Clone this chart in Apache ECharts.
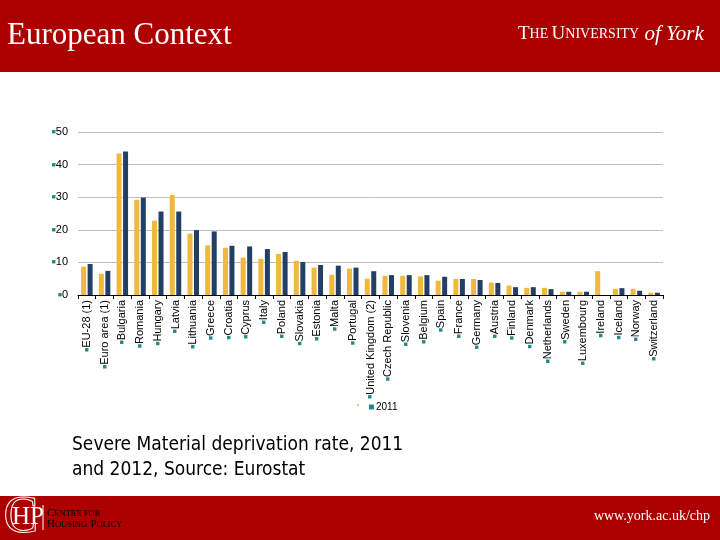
<!DOCTYPE html>
<html><head><meta charset="utf-8">
<script src="https://cdn.jsdelivr.net/npm/echarts@6/dist/echarts.min.js"></script>
<style>html,body{margin:0;padding:0;background:#fff}#c{width:720px;height:540px}</style>
</head><body><div id="c"></div>
<script>
const categories = ['EU-28 (1)','Euro area (1)','Bulgaria','Romania','Hungary','Latvia','Lithuania','Greece','Croatia','Cyprus','Italy','Poland','Slovakia','Estonia','Malta','Portugal','United Kingdom (2)','Czech Republic','Slovenia','Belgium','Spain','France','Germany','Austria','Finland','Denmark','Netherlands','Sweden','Luxembourg','Ireland','Iceland','Norway','Switzerland'];
const values2011 = [8.7,6.5,43.4,29.2,22.8,30.7,18.8,15.2,14.5,11.5,11.1,12.6,10.5,8.4,6.2,8.1,5.0,5.9,5.9,5.7,4.4,4.9,4.9,3.8,2.9,2.2,2.2,1.0,1.0,7.3,1.9,1.9,0.7];
const values2012 = [9.5,7.4,44.0,29.9,25.6,25.6,19.9,19.5,15.1,14.9,14.1,13.2,10.1,9.2,9.0,8.4,7.3,6.1,6.1,6.1,5.6,4.9,4.6,3.7,2.4,2.4,1.8,1.0,1.0,null,2.1,1.3,0.7];
const yTicks = [0,10,20,30,40,50];

const RED = '#AC0000', TEAL = '#1F8A86';
const chart = echarts.init(document.getElementById('c'), null, {renderer:'canvas'});
chart.setOption({
  animation:false,
  backgroundColor:'#fff',
  grid:{left:78, right:57, top:132, bottom:245, containLabel:false},
  xAxis:{type:'category', data:categories,
    axisLine:{lineStyle:{color:'#000', width:1}},
    axisTick:{show:true, interval:0, length:4, lineStyle:{color:'#000'}},
    axisLabel:{interval:0, rotate:90, margin:5,
      formatter:v=>'{sq|■}{t|'+v+'}',
      rich:{sq:{color:TEAL, fontSize:7, fontFamily:'Liberation Sans'}, t:{color:'#000', fontSize:11, fontFamily:'Liberation Sans'}}}
  },
  yAxis:{type:'value', min:0, max:50, interval:10,
    axisLine:{show:false}, axisTick:{show:false},
    splitLine:{lineStyle:{color:'#C0C0C0', width:1}},
    axisLabel:{margin:10, formatter:v=>'{sq|■}{t|'+v+'}',
      rich:{sq:{color:TEAL, fontSize:7, fontFamily:'Liberation Sans'}, t:{color:'#000', fontSize:11, fontFamily:'Liberation Sans'}}}
  },
  legend:{data:[{name:'2011', icon:'rect', itemStyle:{color:TEAL}}], left:364, top:397, itemWidth:5, itemHeight:5, itemGap:2,
    textStyle:{fontSize:10, fontFamily:'Liberation Sans', color:'#000', padding:[0,0,0,-3]}},
  series:[
    {name:'2011', type:'bar', data:values2011, barWidth:5, barGap:'30%', itemStyle:{color:'#F0B83C'}},
    {name:'2012', type:'bar', data:values2012, barWidth:5, itemStyle:{color:'#243F66'}}
  ],
  graphic:[
    {type:'rect', shape:{x:0,y:0,width:720,height:72}, style:{fill:RED}, z:-1},
    {type:'text', left:7, top:20, style:{text:'European Context', fill:'#fff', font:'31px "Liberation Serif", "DejaVu Serif", serif'}},
    {type:'text', left:518, top:24, style:{
      text:'{b|T}{s|HE} {b|U}{s|NIVERSITY}{i| of York}', fill:'#fff',
      rich:{b:{fontSize:19, fontFamily:'Liberation Serif', color:'#fff'},
            s:{fontSize:14, fontFamily:'Liberation Serif', color:'#fff'},
            i:{fontSize:21, fontFamily:'Liberation Serif', fontStyle:'italic', color:'#fff'}}}},
    {type:'circle', shape:{cx:358, cy:405, r:1}, style:{fill:'#F0B83C'}},
    {type:'text', left:72, top:433, style:{text:'Severe Material deprivation rate, 2011\nand 2012, Source: Eurostat', fill:'#000', font:'19px "DejaVu Sans Condensed", "DejaVu Sans", sans-serif', lineHeight:25}},
    {type:'rect', shape:{x:0,y:496,width:720,height:44}, style:{fill:RED}, z:-1},
    {type:'text', left:3, top:492, style:{text:'C', fill:'none', stroke:'#fff', lineWidth:1, font:'52px "Liberation Serif", serif'}},
    {type:'text', left:12, top:505, style:{text:'HP', fill:'#fff', font:'25px "Liberation Serif", serif'}},
    {type:'line', shape:{x1:43,y1:505,x2:43,y2:530}, style:{stroke:'#fff', lineWidth:1}},
    {type:'text', left:47, top:508, style:{text:'{b|C}{s|ENTRE FOR}\n{b|H}{s|OUSING} {b|P}{s|OLICY}', lineHeight:11,
      rich:{b:{fontSize:11, fontFamily:'Liberation Serif', color:'#fff'}, s:{fontSize:8.5, fontFamily:'Liberation Serif', color:'#fff'}}}},
    {type:'text', right:10, top:509, style:{text:'www.york.ac.uk/chp', fill:'#fff', font:'14px "Liberation Serif", serif'}}
  ]
});
</script></body></html>
